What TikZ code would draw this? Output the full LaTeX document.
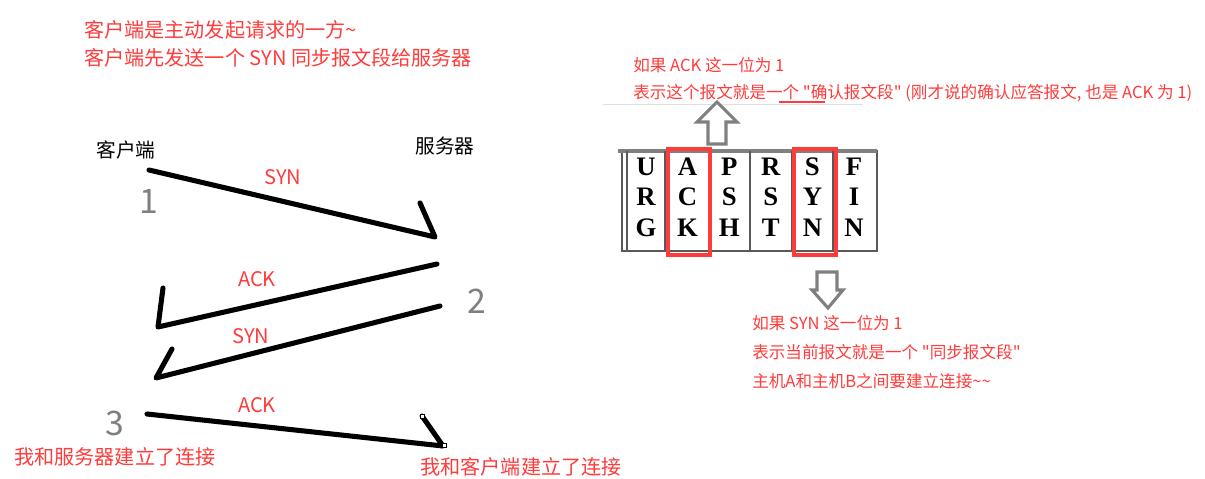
\documentclass[tikz,border=0pt]{standalone}
\usepackage{fontspec}
\newfontfamily\cjk{Noto Sans CJK SC}
\newfontfamily\flagfont{Liberation Serif}
\usetikzlibrary{positioning}
\definecolor{noteRed}{HTML}{FF3B3B}
\definecolor{stepGray}{HTML}{7F7F7F}

\begin{document}
\begin{tikzpicture}[x=0.025cm, y=-0.025cm,
    handshake/.style={line width=3.6pt, line cap=round, line join=round},
    note/.style={inner sep=0pt, text=noteRed, font=\cjk\fontsize{14.3}{20}\selectfont},
    small note/.style={inner sep=0pt, anchor=west, align=left, text=noteRed},
    stepno/.style={inner sep=0pt, text=stepGray, font=\cjk\fontsize{24}{24}\selectfont},
    party/.style={inner sep=0pt, font=\cjk\fontsize{14}{16}\selectfont},
    flag/.style={inner sep=0pt, font=\flagfont\bfseries\fontsize{19}{19}\selectfont},
    hollow/.style={draw=gray, line width=2.2pt, fill=white, line join=miter}]
    \useasboundingbox (0,0) rectangle (1205,479);
    % headline
    \node[note, anchor=west, align=left] (intro) at (84,43.5)
        {客户端是主动发起请求的一方\textasciitilde\\客户端先发送一个 SYN 同步报文段给服务器};
    % the two parties
    \node[party] (client) at (126,150) {客户端};
    \node[party] (server) at (445,146) {服务器};
    % step 1: SYN, client -> server
    \coordinate (c1) at (149,170);
    \coordinate (s1) at (435,237);
    \coordinate (s1barb) at (420,203);
    \draw[handshake] (c1) -- (s1) -- (s1barb);
    \node[note] (syn1) at (283,177) {SYN};
    \node[stepno] (n1) at (149,201) {1};
    % step 2: ACK + SYN, server -> client
    \coordinate (s2) at (437,264);
    \coordinate (c2) at (158,327);
    \coordinate (c2barb) at (163,288);
    \draw[handshake] (s2) -- (c2) -- (c2barb);
    \node[note] (ack2) at (257,279) {ACK};
    \coordinate (s3) at (440,306);
    \coordinate (c3) at (156,378);
    \coordinate (c3barb) at (172,349);
    \draw[handshake] (s3) -- (c3) -- (c3barb);
    \node[note] (syn2) at (251,336) {SYN};
    \node[stepno] (n2) at (477,301) {2};
    % step 3: ACK, client -> server
    \coordinate (c4) at (147,414);
    \coordinate (s4) at (443,446);
    \coordinate (s4barb) at (422,416);
    \draw[handshake] (c4) -- (s4) -- (s4barb);
    \draw[fill=white, line width=0.4pt] (420,414) rectangle (424,418);
    \draw[fill=white, line width=0.4pt] (442,443) rectangle (446,447);
    \node[note] (ack3) at (257,405) {ACK};
    \node[stepno] (n3) at (115,423) {3};
    \node[note] (done1) at (115,457) {我和服务器建立了连接};
    \node[note] (done2) at (521,467) {我和客户端建立了连接};
    % note on ACK
    \node[small note, font=\cjk\fontsize{11.8}{19.2}\selectfont] (acknote) at (633,79.5)
        {如果 ACK 这一位为 1\\表示这个报文就是一个 "确认报文段" (刚才说的确认应答报文, 也是 ACK 为 1)};
    \draw[gray!25, line width=0.6pt] (603,104) -- (863,104);
    \draw[noteRed, line width=1.5pt] (779,102) -- (825,102);
    \draw[hollow] (708,144) -- (708,122) -- (697,122) -- (717,102)
        -- (737,122) -- (726,122) -- (726,144) -- cycle;
    % TCP flag bits
    \draw[gray!70!black, line width=1.2pt] (622,151) rectangle (877,251);
    \draw[gray, line width=3pt] (618,151) -- (877,151);
    \draw[gray!70!black, line width=0.8pt] (627,151) -- (627,251);
    \foreach \x in {665,710,750,792,833}
        \draw[gray!70!black, line width=1pt] (\x,151) -- (\x,251);
    \foreach \a/\b/\c [count=\i] in {U/R/G,A/C/K,P/S/H,R/S/T,S/Y/N,F/I/N} {
        \node[flag] (flag\i a) at ({646+41.6*(\i-1)},167) {\a};
        \node[flag] (flag\i b) at ({646+41.6*(\i-1)},197) {\b};
        \node[flag] (flag\i c) at ({646+41.6*(\i-1)},228) {\c};
    }
    \draw[noteRed, line width=3.5pt] (668,149) rectangle (710,255);
    \draw[noteRed, line width=3.5pt] (794,149) rectangle (836,255);
    % note on SYN
    \draw[hollow] (817,272) -- (837,272) -- (837,290) -- (843,290)
        -- (828,308) -- (812,290) -- (817,290) -- cycle;
    \node[small note, font=\cjk\fontsize{11.8}{20.6}\selectfont] (synnote) at (752,352)
        {如果 SYN 这一位为 1\\表示当前报文就是一个 "同步报文段"\\主机A和主机B之间要建立连接\textasciitilde\textasciitilde};
\end{tikzpicture}
\end{document}
